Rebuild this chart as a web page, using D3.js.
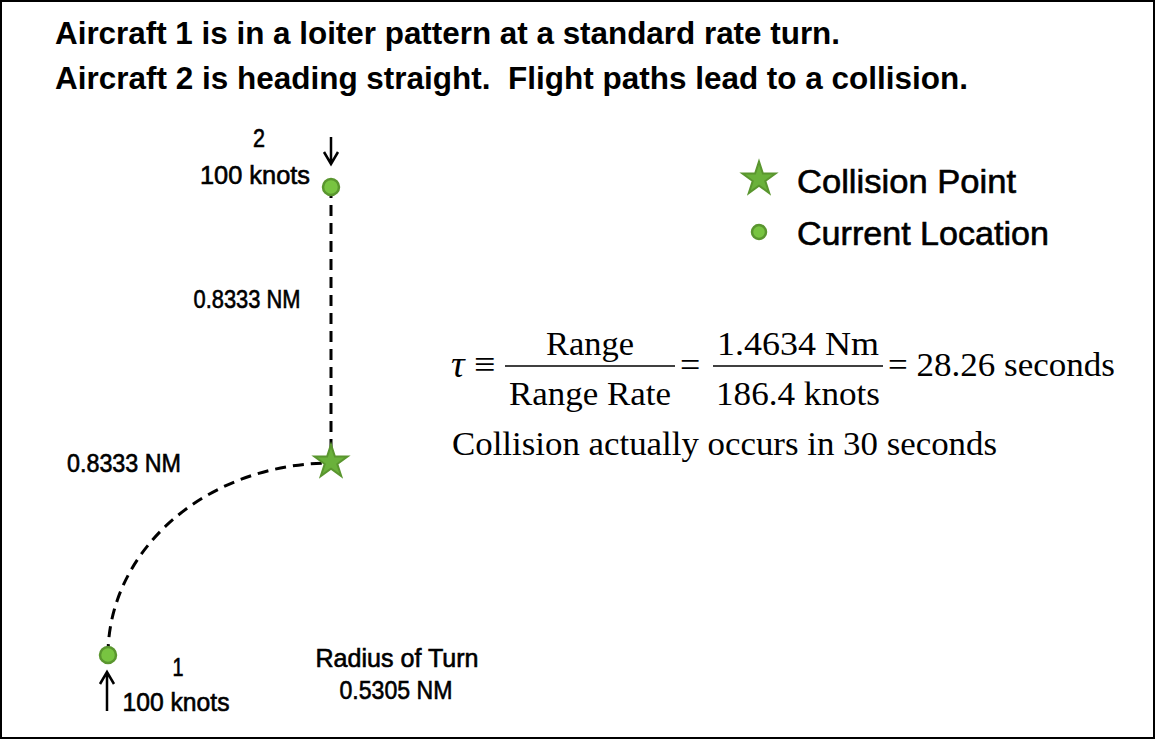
<!DOCTYPE html>
<html>
<head>
<meta charset="utf-8">
<script src="https://cdn.jsdelivr.net/npm/d3@7"></script>
<style>
  body { margin: 0; background: #fff; }
  text { white-space: pre; }
  .sans { font-family: "Liberation Sans", Arial, sans-serif; }
  .heavy { stroke: #000; stroke-width: 0.6px; }
  .serif { font-family: "Liberation Serif", "Times New Roman", serif; }
</style>
</head>
<body>
<svg width="1156" height="740"></svg>
<script>
// chart values
const titleLines = ["Aircraft 1 is in a loiter pattern at a standard rate turn.",
                    "Aircraft 2 is heading straight.  Flight paths lead to a collision."];
const turnRadius = 0.5305;   // NM
const arcLeg = 0.8333;       // NM flown on the turn
const straightLeg = 0.8333;  // NM flown straight
const aircraftIds = ["1", "2"];
const aircraftSpeeds = [100, 100];           // knots
const aircraftX = [-turnRadius, 0];          // NM, turn centre at origin
const aircraftY = [0, turnRadius + straightLeg];
const collisionX = 0, collisionY = turnRadius;
const legendLabels = ["Collision Point", "Current Location"];
const eqNumer = ["Range", "1.4634 Nm"];
const eqDenom = ["Range Rate", "186.4 knots"];
const eqResult = "= 28.26 seconds";
const actualNote = "Collision actually occurs in 30 seconds";

const green = "#78c441", greenDark = "#5a962f", starFill = "#6ab13b";

const svg = d3.select("svg");

// frame
svg.append("rect")
    .attr("x", 1).attr("y", 1).attr("width", 1153).attr("height", 737)
    .attr("fill", "none").attr("stroke", "#000").attr("stroke-width", 2);

// title
const titleLens = [785, 913];
svg.selectAll(".title").data(titleLines).enter().append("text")
    .attr("class", "sans title")
    .attr("x", 55).attr("y", function(d, i) { return 44 + i * 45; })
    .attr("font-size", 32).attr("font-weight", "bold")
    .attr("textLength", function(d, i) { return titleLens[i]; })
    .attr("lengthAdjust", "spacingAndGlyphs")
    .text(function(d) { return d; });

// scales (NM -> px)
var x = d3.scaleLinear().domain([-turnRadius, 0]).range([108, 331]);
var y = d3.scaleLinear().domain([0, turnRadius, turnRadius + straightLeg]).range([655, 463, 187]);

var g = svg.append("g");

// turn path: quarter ellipse from aircraft 1 to collision point
var rx = x(collisionX) - x(aircraftX[0]);
var ry = y(aircraftY[0]) - y(collisionY);
g.append("path")
    .attr("d", "M" + x(aircraftX[0]) + "," + y(aircraftY[0]) +
               " A" + rx + "," + ry + " 0 0 1 " + x(collisionX) + "," + y(collisionY))
    .attr("fill", "none").attr("stroke", "#000").attr("stroke-width", 3)
    .attr("stroke-dasharray", "11,7");

// straight path
g.append("line")
    .attr("x1", x(aircraftX[1])).attr("y1", y(aircraftY[1]))
    .attr("x2", x(collisionX)).attr("y2", y(collisionY))
    .attr("stroke", "#000").attr("stroke-width", 3)
    .attr("stroke-dasharray", "11,7");

// star at collision
var star = d3.symbol().type(d3.symbolStar).size(340);
g.append("path")
    .attr("d", star)
    .attr("transform", "translate(" + x(collisionX) + "," + (y(collisionY) - 1) + ")")
    .attr("fill", starFill).attr("stroke", greenDark).attr("stroke-width", 2);

// current locations
g.selectAll(".ac").data(aircraftIds).enter().append("circle")
    .attr("cx", function(d, i) { return x(aircraftX[i]); })
    .attr("cy", function(d, i) { return y(aircraftY[i]); })
    .attr("r", 8)
    .attr("fill", green).attr("stroke", greenDark).attr("stroke-width", 2.5);

// heading arrows
function arrow(x0, y0, y1) {
    var dir = y1 > y0 ? 1 : -1;
    g.append("path")
        .attr("d", "M" + x0 + "," + y0 + "V" + y1 +
                   "M" + (x0 - 7) + "," + (y1 - dir * 12) + "L" + x0 + "," + y1 +
                   "L" + (x0 + 7) + "," + (y1 - dir * 12))
        .attr("fill", "none").attr("stroke", "#000").attr("stroke-width", 2.5);
}
arrow(x(aircraftX[1]), y(aircraftY[1]) - 50, y(aircraftY[1]) - 23);
arrow(x(aircraftX[0]) - 1, y(aircraftY[0]) + 56, y(aircraftY[0]) + 17);

function label(txt, cx, by, size, len) {
    return svg.append("text").attr("class", "sans heavy")
        .attr("x", cx).attr("y", by)
        .attr("text-anchor", "middle")
        .attr("font-size", size)
        .attr("textLength", len).attr("lengthAdjust", "spacingAndGlyphs")
        .text(txt);
}

// aircraft labels
label(aircraftIds[1], 259, 147, 25, 12);
label(aircraftSpeeds[1] + " knots", 255, 184, 25, 110);
label(aircraftIds[0], 178, 676, 25, 11);
label(aircraftSpeeds[0] + " knots", 176, 711, 25, 107);

// distance labels
label(straightLeg.toFixed(4) + " NM", 247, 308, 25, 107);
label(arcLeg.toFixed(4) + " NM", 124, 472, 25, 114);
label("Radius of Turn", 397, 667, 25, 163);
label(turnRadius.toFixed(4) + " NM", 396, 699, 25, 113);

// legend
svg.append("path").attr("d", star)
    .attr("transform", "translate(759,179)")
    .attr("fill", starFill).attr("stroke", greenDark).attr("stroke-width", 2);
svg.append("circle").attr("cx", 759).attr("cy", 232).attr("r", 7)
    .attr("fill", green).attr("stroke", greenDark).attr("stroke-width", 2.5);
var legLens = [219, 252];
svg.selectAll(".leg").data(legendLabels).enter().append("text")
    .attr("class", "sans heavy")
    .attr("x", 797).attr("y", function(d, i) { return 193 + i * 52; })
    .attr("font-size", 33)
    .attr("textLength", function(d, i) { return legLens[i]; })
    .attr("lengthAdjust", "spacingAndGlyphs")
    .text(function(d) { return d; });

// equation
var eq = svg.append("g").attr("class", "serif").attr("font-size", 34);
eq.append("text").attr("x", 451).attr("y", 377).attr("font-size", 38).attr("font-style", "italic").text("\u03c4");
eq.append("text").attr("x", 474).attr("y", 377).attr("font-size", 38).text("\u2261");
var fracCx = [590, 798], fracW = [170, 170], numLen = [88, 162], denLen = [162, 164];
eqNumer.forEach(function(n, i) {
    eq.append("text").attr("x", fracCx[i]).attr("y", 355).attr("text-anchor", "middle")
        .attr("textLength", numLen[i]).attr("lengthAdjust", "spacingAndGlyphs").text(n);
    eq.append("text").attr("x", fracCx[i]).attr("y", 405).attr("text-anchor", "middle")
        .attr("textLength", denLen[i]).attr("lengthAdjust", "spacingAndGlyphs").text(eqDenom[i]);
    eq.append("line")
        .attr("x1", fracCx[i] - fracW[i] / 2).attr("x2", fracCx[i] + fracW[i] / 2)
        .attr("y1", 366).attr("y2", 366)
        .attr("stroke", "#000").attr("stroke-width", 1.5);
});
eq.append("text").attr("x", 680).attr("y", 377).attr("font-size", 36).text("=");
eq.append("text").attr("x", 888).attr("y", 376)
    .attr("textLength", 227).attr("lengthAdjust", "spacingAndGlyphs").text(eqResult);
eq.append("text").attr("x", 452).attr("y", 455)
    .attr("textLength", 545).attr("lengthAdjust", "spacingAndGlyphs").text(actualNote);
</script>
</body>
</html>
